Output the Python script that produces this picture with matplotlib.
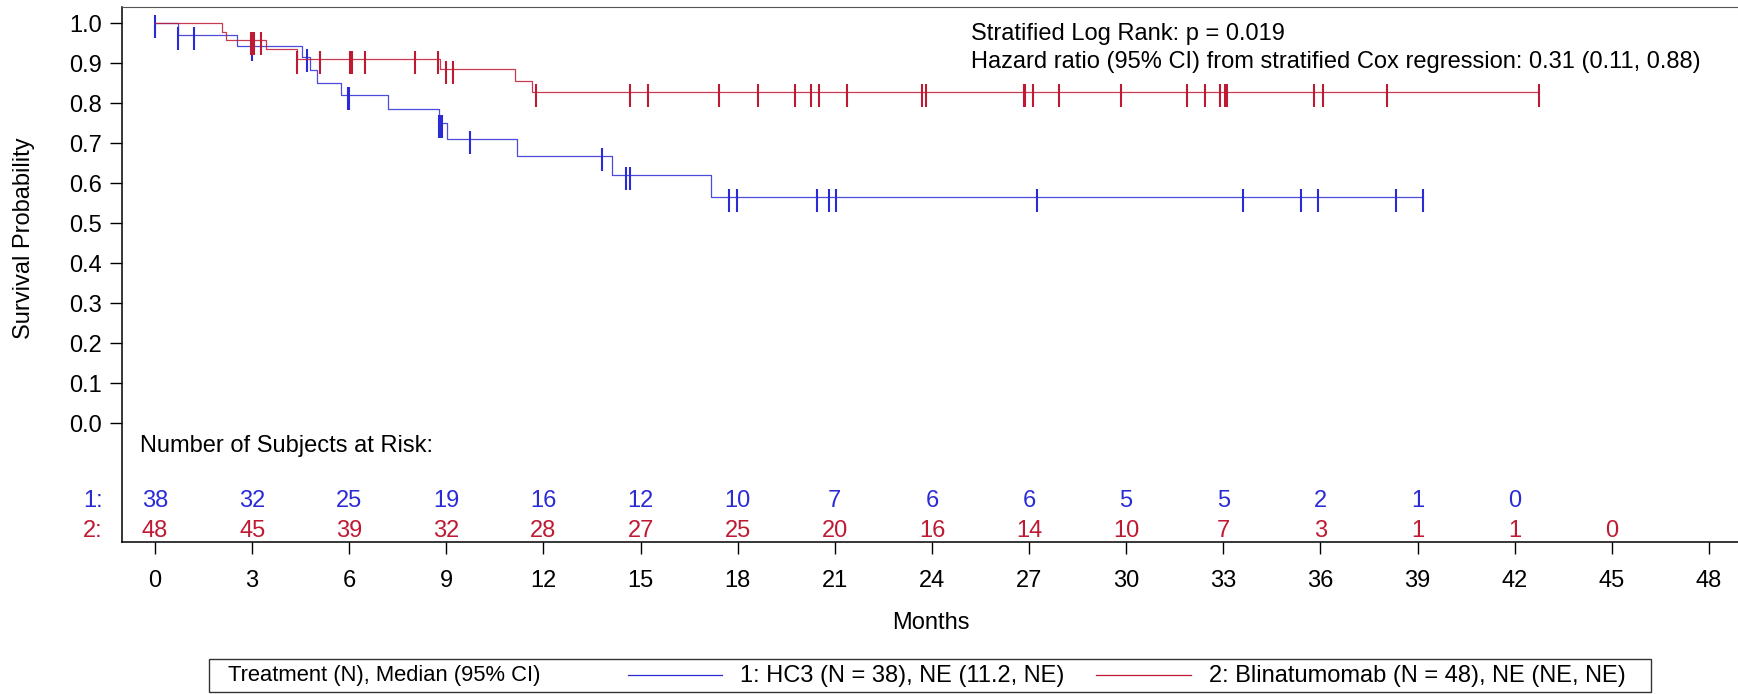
import numpy as np
import matplotlib.pyplot as plt
from matplotlib.lines import Line2D
from matplotlib.patches import Rectangle
from matplotlib.path import Path

plt.rcParams['font.family'] = ['Liberation Sans', 'DejaVu Sans']

BLUE = '#2B2BD6'
RED = '#BF1A33'
FS = 17

# Kaplan-Meier steps: time of each drop (months) and survival after it
hc3_times = [0, 0.72, 2.54, 4.55, 4.79, 5.01, 5.73, 7.21, 8.76, 9.01, 11.17, 14.13, 17.18]
hc3_surv = [1.0, 0.972, 0.944, 0.915, 0.883, 0.852, 0.822, 0.786, 0.750, 0.711, 0.668, 0.622, 0.567]
hc3_last = 39.17
hc3_censor = [0, 0.72, 1.21, 2.99, 4.68, 5.96, 5.99, 8.78, 8.82, 8.86, 9.73, 13.82,
              14.55, 14.67, 17.73, 17.99, 20.44, 20.81, 21.05, 27.26, 33.60, 35.40,
              35.93, 38.32, 39.17]

blin_times = [0, 2.06, 2.19, 3.42, 4.40, 8.80, 11.12, 11.66]
blin_surv = [1.0, 0.979, 0.958, 0.935, 0.912, 0.886, 0.857, 0.828]
blin_last = 42.75
blin_censor = [2.97, 3.02, 3.07, 3.27, 4.40, 5.11, 6.02, 6.07, 6.50, 8.03, 8.75, 8.98,
               9.20, 11.77, 14.67, 15.24, 17.43, 18.62, 19.76, 20.25, 20.52, 21.37,
               23.68, 23.82, 26.83, 26.89, 27.11, 27.93, 29.84, 31.89, 32.45, 32.90,
               33.06, 33.13, 35.80, 36.09, 38.06, 42.75]

# subjects at risk
risk_months = [0, 3, 6, 9, 12, 15, 18, 21, 24, 27, 30, 33, 36, 39, 42, 45]
risk_hc3 = [38, 32, 25, 19, 16, 12, 10, 7, 6, 6, 5, 5, 2, 1, 0]
risk_blin = [48, 45, 39, 32, 28, 27, 25, 20, 16, 14, 10, 7, 3, 1, 1, 0]

x_ticks = list(range(0, 49, 3))
y_ticks = [i / 10 for i in range(11)]

W, H = 1738, 694
fig = plt.figure(figsize=(W / 100, H / 100), dpi=100)
ax = fig.add_axes([121.7 / W, 1 - 542.3 / H, 1 - 121.7 / W, (542.3 - 6.7) / H])

# censor tick hangs a little lower than the curve
censor_mark = Path([(0, 8 / 15), (0, -1)], [Path.MOVETO, Path.LINETO])


def draw_arm(times, surv, last, censor, color):
    xs = list(times) + [last]
    ys = list(surv) + [surv[-1]]
    ax.step(xs, ys, where='post', color=color, lw=0.9, alpha=0.85)
    idx = np.searchsorted(times, censor, side='right') - 1
    ax.plot(censor, np.asarray(surv)[idx], ls='none', marker=censor_mark,
            markersize=21.6, markeredgewidth=1.5, color=color)


draw_arm(hc3_times, hc3_surv, hc3_last, hc3_censor, BLUE)
draw_arm(blin_times, blin_surv, blin_last, blin_censor, RED)

ax.set_xlim(-1.029, 48.9)
ax.set_ylim(-0.2975, 1.0415)
ax.set_xticks(x_ticks)
ax.set_yticks(y_ticks)
ax.set_yticklabels([f'{v:.1f}' for v in y_ticks])
ax.tick_params(axis='x', length=8.6, width=1, pad=11.5, labelsize=FS)
ax.tick_params(axis='y', length=8.4, width=1, pad=6.0, labelsize=FS)

ax.spines['right'].set_visible(False)
ax.spines['top'].set_color('#555555')
for s in ('left', 'bottom'):
    ax.spines[s].set_linewidth(1.1)

ax.set_ylabel('Survival Probability', fontsize=FS)
ax.yaxis.label.set_verticalalignment('center')
ax.yaxis.set_label_coords(-0.0604, 0.568)

ax.set_xlabel('Months', fontsize=FS)
ax.xaxis.label.set_verticalalignment('center')
ax.xaxis.set_label_coords(0.5007, (-0.5 + 0.2975) / 1.339)

# at-risk table inside the frame
ax.text(-0.47, -0.057, 'Number of Subjects at Risk:', fontsize=FS, ha='left', va='center')
row_y = {1: -0.194, 2: -0.269}
ax.text(-1.62, row_y[1], '1:', color=BLUE, fontsize=FS, ha='right', va='center', clip_on=False)
ax.text(-1.62, row_y[2], '2:', color=RED, fontsize=FS, ha='right', va='center', clip_on=False)
for m, n in zip(risk_months, risk_hc3):
    ax.text(m, row_y[1], str(n), color=BLUE, fontsize=FS, ha='center', va='center')
for m, n in zip(risk_months, risk_blin):
    ax.text(m, row_y[2], str(n), color=RED, fontsize=FS, ha='center', va='center')

ax.text(25.21, 0.973, 'Stratified Log Rank: p = 0.019', fontsize=FS, ha='left', va='center')
ax.text(25.21, 0.903, 'Hazard ratio (95% CI) from stratified Cox regression: 0.31 (0.11, 0.88)',
        fontsize=FS, ha='left', va='center')


# legend box along the bottom, laid out in pixel positions
def fx(x):
    return x / W


def fy(y):
    return 1 - y / H


fig.patches.append(Rectangle((fx(209.3), fy(691.7)), fx(1650.6) - fx(209.3), fy(659.3) - fy(691.7),
                             transform=fig.transFigure, fill=False, ec='#333333', lw=1))
ly = 676
fig.text(fx(228.5), fy(ly), 'Treatment (N), Median (95% CI)', fontsize=15.8, ha='left', va='center')
fig.lines.append(Line2D([fx(627.6), fx(721.7)], [fy(675.3), fy(675.3)], transform=fig.transFigure,
                        color=BLUE, lw=0.9))
fig.text(fx(739.7), fy(ly), '1: HC3 (N = 38), NE (11.2, NE)', fontsize=FS, ha='left', va='center')
fig.lines.append(Line2D([fx(1096.4), fx(1190.5)], [fy(675.3), fy(675.3)], transform=fig.transFigure,
                        color=RED, lw=0.9))
fig.text(fx(1208.9), fy(ly), '2: Blinatumomab (N = 48), NE (NE, NE)', fontsize=FS, ha='left', va='center')

fig.savefig('out.png', dpi=100)
